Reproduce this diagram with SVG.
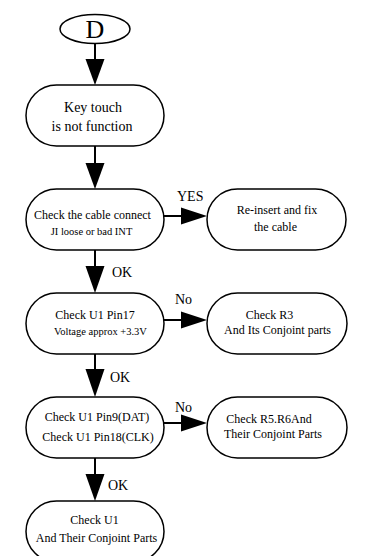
<svg xmlns="http://www.w3.org/2000/svg" width="366" height="556" viewBox="0 0 366 556">
<style>
  .node { fill: #fff; stroke: #000; stroke-width: 1.5; }
  .t { font-family: "Liberation Serif", "DejaVu Serif", serif; fill: #000; text-anchor: middle; }
  .big { font-size: 14px; }
  .mid { font-size: 12px; }
  .sm { font-size: 10.5px; }
  .lbl { font-family: "Liberation Serif", "DejaVu Serif", serif; font-size: 14px; fill: #000; }
  .line { stroke: #000; stroke-width: 2; fill: none; }
  .head { fill: #000; stroke: none; }
</style>
<rect width="366" height="556" fill="#fff"/>

<g id="connectors">
  <!-- D -> N1 -->
  <line class="line" x1="95" y1="43" x2="95" y2="60"/>
  <polygon class="head" points="85.5,59 104.5,59 95,85"/>
  <!-- N1 -> N2 -->
  <line class="line" x1="95" y1="146" x2="95" y2="163"/>
  <polygon class="head" points="85.5,163 104.5,163 95,189"/>
  <!-- N2 -> R1 -->
  <line class="line" x1="164" y1="216" x2="182" y2="216"/>
  <polygon class="head" points="181,207.5 181,224.5 207,216"/>
  <text class="lbl" x="177" y="201">YES</text>
  <!-- N2 -> N3 -->
  <line class="line" x1="95" y1="250" x2="95" y2="267"/>
  <polygon class="head" points="85.5,266 104.5,266 95,293"/>
  <text class="lbl" x="112" y="277">OK</text>
  <!-- N3 -> R2 -->
  <line class="line" x1="164" y1="320" x2="182" y2="320"/>
  <polygon class="head" points="181,311.5 181,328.5 207,320"/>
  <text class="lbl" x="175" y="304">No</text>
  <!-- N3 -> N4 -->
  <line class="line" x1="95" y1="354" x2="95" y2="370"/>
  <polygon class="head" points="85.5,369 104.5,369 95,397"/>
  <text class="lbl" x="110" y="382">OK</text>
  <!-- N4 -> R3 -->
  <line class="line" x1="164" y1="423" x2="182" y2="423"/>
  <polygon class="head" points="181,414.5 181,431.5 207,423"/>
  <text class="lbl" x="175" y="412">No</text>
  <!-- N4 -> N5 -->
  <line class="line" x1="95" y1="458" x2="95" y2="475"/>
  <polygon class="head" points="85.5,474 104.5,474 95,501"/>
  <text class="lbl" x="108" y="490">OK</text>
</g>

<g id="start">
  <ellipse class="node" cx="95" cy="29" rx="35" ry="14.5"/>
  <text class="t" x="95" y="38" font-size="26">D</text>
</g>

<g id="n1">
  <rect class="node" x="26" y="85" width="138" height="61" rx="30.5"/>
  <text class="t big" x="93" y="112">Key touch</text>
  <text class="t big" x="92" y="131">is not function</text>
</g>

<g id="n2">
  <rect class="node" x="26" y="189" width="138" height="61" rx="30.5"/>
  <text class="t mid" x="92.5" y="219">Check the cable connect</text>
  <text class="t sm" x="91.5" y="235">JI loose or bad INT</text>
</g>

<g id="r1">
  <rect class="node" x="207" y="189" width="139" height="61" rx="30.5"/>
  <text class="t mid" x="277" y="214">Re-insert and fix</text>
  <text class="t mid" x="275.5" y="231">the cable</text>
</g>

<g id="n3">
  <rect class="node" x="26" y="293" width="138" height="61" rx="30.5"/>
  <text class="t mid" x="95" y="319">Check U1 Pin17</text>
  <text class="t sm" x="100.5" y="335">Voltage approx +3.3V</text>
</g>

<g id="r2">
  <rect class="node" x="207" y="293" width="140" height="61" rx="30.5"/>
  <text class="t mid" x="269.5" y="319">Check R3</text>
  <text class="t mid" x="277.5" y="334">And Its Conjoint parts</text>
</g>

<g id="n4">
  <rect class="node" x="26" y="397" width="138" height="61" rx="30.5"/>
  <text class="t mid" x="97" y="421">Check U1 Pin9(DAT)</text>
  <text class="t mid" x="98" y="441">Check U1 Pin18(CLK)</text>
</g>

<g id="r3">
  <rect class="node" x="207" y="397" width="140" height="61" rx="30.5"/>
  <text class="t mid" x="269" y="423">Check R5.R6And</text>
  <text class="t mid" x="273" y="438">Their Conjoint Parts</text>
</g>

<g id="n5">
  <rect class="node" x="26" y="501" width="138" height="61" rx="30.5"/>
  <text class="t mid" x="94.5" y="524">Check U1</text>
  <text class="t mid" x="96.5" y="542">And Their Conjoint Parts</text>
</g>
</svg>
